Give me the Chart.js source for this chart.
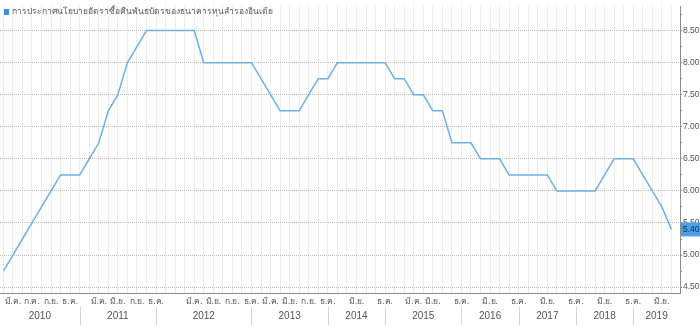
<!DOCTYPE html>
<html>
<head>
<meta charset="utf-8">
<script src="https://cdn.jsdelivr.net/npm/chart.js@4.4.1/dist/chart.umd.min.js"></script>
<style>
  html, body { margin: 0; padding: 0; background: #ffffff; }
  #wrap { width: 700px; height: 325px; }
</style>
</head>
<body>
<div id="wrap"><canvas id="c" width="700" height="325"></canvas></div>
<script>
// RBI repo rate, one value per policy announcement (2010 - Aug 2019)
const seriesLabel = 'การประกาศนโยบายอัตราซื้อคืนพันธบัตรของธนาคารทุนสำรองอินเดีย';
const repoRate = [
  4.75, 5.00, 5.25, 5.50, 5.75, 6.00, 6.25, 6.25,              // 2010
  6.25, 6.50, 6.75, 7.25, 7.50, 8.00, 8.25, 8.50, 8.50,        // 2011
  8.50, 8.50, 8.50, 8.50, 8.00, 8.00, 8.00, 8.00, 8.00, 8.00,  // 2012
  7.75, 7.50, 7.25, 7.25, 7.25, 7.50, 7.75, 7.75,              // 2013
  8.00, 8.00, 8.00, 8.00, 8.00, 8.00,                          // 2014
  7.75, 7.75, 7.50, 7.50, 7.25, 7.25, 6.75, 6.75,              // 2015
  6.75, 6.50, 6.50, 6.50, 6.25, 6.25,                          // 2016
  6.25, 6.25, 6.25, 6.00, 6.00, 6.00,                          // 2017
  6.00, 6.00, 6.25, 6.50, 6.50, 6.50,                          // 2018
  6.25, 6.00, 5.75, 5.40                                       // 2019
];

// month captions under selected announcements (index into repoRate)
const monthTickIndex = [1, 3, 5, 7, 10, 12, 14, 16, 20, 22, 24, 26, 28, 30, 32, 34,
                        37, 40, 43, 45, 48, 51, 54, 57, 60, 63, 66, 69];
const monthTickText = ['มี.ค.', 'ก.ค.', 'ก.ย.', 'ธ.ค.',
                       'มี.ค.', 'มิ.ย.', 'ก.ย.', 'ธ.ค.',
                       'มี.ค.', 'มิ.ย.', 'ก.ย.', 'ธ.ค.',
                       'มี.ค.', 'มิ.ย.', 'ก.ย.', 'ธ.ค.',
                       'มิ.ย.', 'ธ.ค.',
                       'มี.ค.', 'มิ.ย.', 'ธ.ค.',
                       'มิ.ย.', 'ธ.ค.',
                       'มิ.ย.', 'ธ.ค.',
                       'มิ.ย.', 'ธ.ค.',
                       'มิ.ย.'];
const years = ['2010', '2011', '2012', '2013', '2014', '2015', '2016', '2017', '2018', '2019'];
const yearBreaks = [8, 16, 26, 34, 40, 48, 54, 60, 66];

const yTickValues = [4.5, 4.75, 5.0, 5.25, 5.5, 5.75, 6.0, 6.25, 6.5, 6.75,
                     7.0, 7.25, 7.5, 7.75, 8.0, 8.25, 8.5, 8.75];
const yLabelled = [4.5, 5.0, 5.5, 6.0, 6.5, 7.0, 7.5, 8.0, 8.5];

const FONT = 'Tahoma, "Noto Sans", "DejaVu Sans", sans-serif';
const NUM_FONT = '"Liberation Sans", Arial, sans-serif';
const LINE = '#6fb0e2';
const isLabelled = v => yLabelled.some(t => Math.abs(t - v) < 1e-6);

const points = repoRate.map((v, i) => ({ x: i, y: v }));

const extras = {
  id: 'extras',
  afterDraw(chart) {
    const { ctx, chartArea, scales } = chart;
    const xs = scales.x, ys = scales.y;
    ctx.save();

    // year separators in the caption band
    ctx.strokeStyle = '#d4d4d4';
    ctx.lineWidth = 1;
    yearBreaks.forEach(b => {
      const px = Math.round(xs.getPixelForValue(b)) + 0.5;
      ctx.beginPath();
      ctx.moveTo(px, chartArea.bottom + 14);
      ctx.lineTo(px, chart.height);
      ctx.stroke();
    });

    // legend entry
    const ds = chart.data.datasets[0];
    ctx.fillStyle = '#3c8fdb';
    ctx.fillRect(4, 9, 5, 6);
    ctx.fillStyle = '#5a5a5a';
    ctx.font = '8.5px ' + FONT;
    ctx.textBaseline = 'middle';
    ctx.textAlign = 'left';
    ctx.fillText(ds.label, 12, 12);

    // last value badge on the right axis
    const last = repoRate[repoRate.length - 1];
    const py = ys.getPixelForValue(last);
    ctx.fillStyle = '#4a9fe6';
    ctx.fillRect(chartArea.right + 1, py - 7, chart.width - chartArea.right - 1, 14);
    ctx.fillStyle = '#12304e';
    ctx.font = '8.5px ' + NUM_FONT;
    ctx.textAlign = 'left';
    ctx.fillText(last.toFixed(2), chartArea.right + 3, py + 0.5);
    ctx.restore();
  }
};

new Chart(document.getElementById('c'), {
  type: 'line',
  data: {
    datasets: [{
      label: seriesLabel,
      data: points,
      borderColor: LINE,
      borderWidth: 1.5,
      pointRadius: 0,
      tension: 0,
      fill: false
    }]
  },
  options: {
    responsive: false,
    animation: false,
    devicePixelRatio: 1,
    layout: { padding: 0 },
    plugins: { legend: { display: false }, tooltip: { enabled: false } },
    scales: {
      x: {
        type: 'linear', position: 'bottom', weight: 0,
        min: -0.35, max: 70.9,
        afterBuildTicks: s => { s.ticks = repoRate.map((_, i) => ({ value: i })); },
        grid: { color: '#dcdcdc', lineWidth: 1, drawTicks: false },
        border: { display: true, color: '#8c8c8c', width: 1, dash: [1, 1] },
        ticks: {
          autoSkip: false, maxRotation: 0, minRotation: 0, padding: 3,
          color: '#5a5a5a', font: { family: FONT, size: 8.5 },
          callback: v => {
            const k = monthTickIndex.indexOf(v);
            return k >= 0 ? monthTickText[k] : '';
          }
        },
        afterFit: s => { s.height = 15; }
      },
      yr: {
        type: 'linear', position: 'bottom', weight: 1,
        min: -0.35, max: 70.9,
        afterBuildTicks: s => {
          const bounds = [s.min, ...yearBreaks, s.max];
          s.ticks = years.map((_, i) => ({ value: (bounds[i] + bounds[i + 1]) / 2 }));
        },
        grid: { display: false, drawTicks: false },
        border: { display: false },
        ticks: {
          autoSkip: false, maxRotation: 0, minRotation: 0, padding: 2,
          color: '#555555', font: { family: NUM_FONT, size: 10 },
          callback: (v, i) => years[i]
        },
        afterFit: s => { s.height = 17; }
      },
      y: {
        type: 'linear', position: 'right',
        min: 4.408, max: 8.882,
        afterBuildTicks: s => { s.ticks = yTickValues.map(v => ({ value: v })); },
        grid: {
          color: c => (c.tick && isLabelled(c.tick.value)) ? '#bdbdbd' : 'rgba(0,0,0,0)',
          lineWidth: 1, drawTicks: true, tickLength: 2,
          tickColor: '#8c8c8c', tickWidth: 1
        },
        border: { display: true, color: '#8c8c8c', width: 1, dash: [1, 1] },
        ticks: {
          padding: 1, color: '#555555', font: { family: NUM_FONT, size: 8.5 },
          callback: v => isLabelled(v) ? v.toFixed(2) : ''
        },
        afterFit: s => { s.width = 20; }
      }
    }
  },
  plugins: [extras]
});
</script>
</body>
</html>
